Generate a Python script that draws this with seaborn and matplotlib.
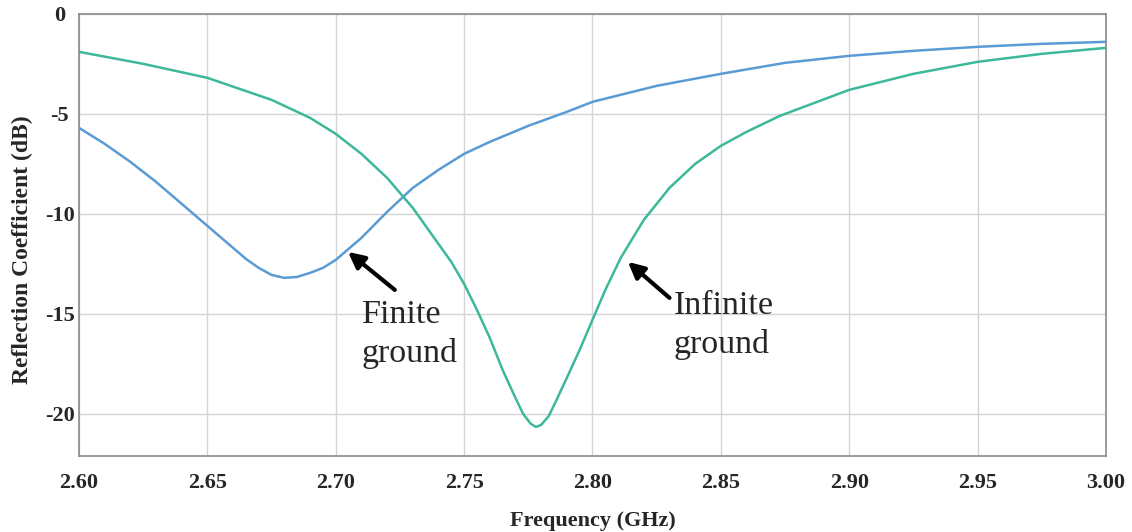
import numpy as np
import pandas as pd
import matplotlib
matplotlib.use('Agg')
import matplotlib.pyplot as plt
import seaborn as sns

# Finite ground (blue)
finite_freq = [2.600, 2.610, 2.620, 2.630, 2.640, 2.650, 2.660, 2.665, 2.670, 2.675,
               2.680, 2.685, 2.690, 2.695, 2.700, 2.710, 2.720, 2.730, 2.740, 2.750,
               2.760, 2.775, 2.790, 2.800, 2.825, 2.850, 2.875, 2.900, 2.925, 2.950,
               2.975, 3.000]
finite_db = [-5.7, -6.5, -7.4, -8.4, -9.5, -10.6, -11.7, -12.25, -12.7, -13.05,
             -13.2, -13.15, -12.95, -12.7, -12.3, -11.2, -9.9, -8.7, -7.8, -7.0,
             -6.4, -5.6, -4.9, -4.4, -3.6, -3.0, -2.45, -2.1, -1.85, -1.65,
             -1.5, -1.4]

# Infinite ground (green)
infinite_freq = [2.600, 2.625, 2.650, 2.675, 2.690, 2.700, 2.710, 2.720, 2.730, 2.740,
                 2.745, 2.750, 2.755, 2.760, 2.765, 2.770, 2.773, 2.776, 2.778, 2.780,
                 2.783, 2.786, 2.790, 2.795, 2.800, 2.805, 2.811, 2.820, 2.830, 2.840,
                 2.850, 2.860, 2.873, 2.900, 2.925, 2.950, 2.975, 3.000]
infinite_db = [-1.9, -2.5, -3.2, -4.3, -5.2, -6.0, -7.0, -8.2, -9.7, -11.5,
               -12.4, -13.5, -14.8, -16.2, -17.8, -19.2, -20.0, -20.5, -20.65, -20.55,
               -20.1, -19.3, -18.2, -16.8, -15.3, -13.8, -12.2, -10.3, -8.7, -7.5,
               -6.6, -5.9, -5.1, -3.8, -3.0, -2.4, -2.0, -1.7]

x_ticks = [2.60, 2.65, 2.70, 2.75, 2.80, 2.85, 2.90, 2.95, 3.00]
y_ticks = [0, -5, -10, -15, -20]

df = pd.concat([
    pd.DataFrame({'freq': finite_freq, 'db': finite_db, 'case': 'Finite ground'}),
    pd.DataFrame({'freq': infinite_freq, 'db': infinite_db, 'case': 'Infinite ground'}),
])

sns.set_style('whitegrid')
plt.rcParams['font.family'] = ['Liberation Serif', 'DejaVu Serif']

fig = plt.figure(figsize=(11.32, 5.32), dpi=100)
ax = fig.add_axes([0.0698, 0.143, 0.9072, 0.831])

sns.lineplot(data=df, x='freq', y='db', hue='case',
             palette={'Finite ground': '#5b9bd5', 'Infinite ground': '#3db89b'},
             linewidth=1.8, legend=False, ax=ax)

ax.set_xlim(2.60, 3.00)
ax.set_ylim(-22.1, 0)
ax.set_xticks(x_ticks)
ax.set_xticklabels([f'{t:.2f}' for t in x_ticks], fontsize=16, fontweight='bold')
ax.set_yticks(y_ticks)
ax.set_yticklabels([str(t) for t in y_ticks], fontsize=16, fontweight='bold', ha='center')
ax.tick_params(axis='x', length=0, pad=12)
ax.tick_params(axis='y', length=0, pad=14)
ax.grid(True, color='#d4d4d4', linewidth=1.0)
for s in ax.spines.values():
    s.set_color('#8a8a8a')
    s.set_linewidth(1.2)

ax.set_xlabel('Frequency (GHz)', fontsize=16, fontweight='bold', labelpad=13)
ax.set_ylabel('Reflection Coefficient (dB)', fontsize=17, fontweight='bold')
ax.yaxis.set_label_coords(-0.0447, 0.466)

arrow = dict(arrowstyle='-|>', color='black', lw=3, mutation_scale=24, shrinkA=0, shrinkB=0)
ax.annotate('', xy=(2.7048, -11.9), xytext=(2.723, -13.8), arrowprops=arrow)
ax.annotate('', xy=(2.8138, -12.4), xytext=(2.830, -14.2), arrowprops=arrow)

ax.text(2.7102, -14.3, 'Finite\nground', fontsize=24.5, ha='left', va='top', linespacing=1.3)
ax.text(2.8315, -13.85, 'Infinite\nground', fontsize=24.5, ha='left', va='top', linespacing=1.3)

fig.savefig('out.png', dpi=100)
